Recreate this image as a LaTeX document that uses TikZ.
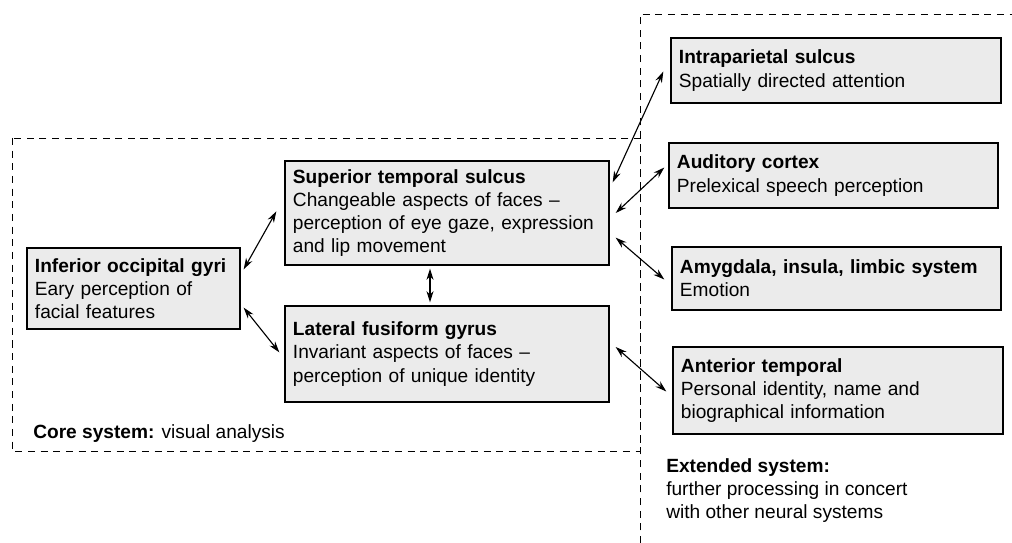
\documentclass[tikz,border=0pt]{standalone}
\usepackage{fontspec}
\setmainfont{Liberation Sans}
\usetikzlibrary{arrows.meta,calc}

\tikzset{
  region/.style={draw, line width=0.9pt, fill=gray!16, align=left,
    inner xsep=0.2cm, inner ysep=0.15cm, font=\fontsize{13.6}{16.5}\selectfont},
  frame/.style={dash pattern=on 5pt off 4pt, line width=0.6pt},
  link/.style={<->, line width=0.8pt, >={Stealth[length=8pt,width=5pt]}},
  caption/.style={inner sep=0pt, align=left, font=\fontsize{13.6}{16.5}\selectfont}
}

\begin{document}
\begin{tikzpicture}[x=0.025cm,y=-0.025cm]
  \useasboundingbox (0,0) rectangle (1012,543);

  % dashed frames
  \draw[frame] (12,138) rectangle (640,451);
  \draw[frame] (640,543) -- (640,14) -- (1012,14);

  \node[region, text width=4.925cm, minimum height=2.025cm] (iog) at (133.5,288.5)
    {\textbf{Inferior occipital gyri}\\Eary perception of\\facial features};

  \node[region, text width=7.7cm, minimum height=2.6cm] (sts) at (447,213)
    {\textbf{Superior temporal sulcus}\\Changeable aspects of faces --\\perception of eye gaze, expression\\and lip movement};
  \node[region, text width=7.7cm, minimum height=2.4cm] (lfg) at (447,354)
    {\textbf{Lateral fusiform gyrus}\\Invariant aspects of faces --\\perception of unique identity};

  \node[region, text width=7.85cm, minimum height=1.625cm] (ips) at (836,70.5)
    {\textbf{Intraparietal sulcus}\\Spatially directed attention};
  \node[region, text width=7.825cm, minimum height=1.625cm] (aud) at (833.5,175.5)
    {\textbf{Auditory cortex}\\Prelexical speech perception};
  \node[region, text width=7.825cm, minimum height=1.575cm] (amy) at (836.5,278.5)
    {\textbf{Amygdala, insula, limbic system}\\Emotion};
  \node[region, text width=7.85cm, minimum height=2.175cm] (ant) at (838,390.5)
    {\textbf{Anterior temporal}\\Personal identity, name and\\biographical information};

  \node[caption, anchor=base west] (core) at (33,438)
    {\textbf{Core system:} visual analysis};
  \node[caption, anchor=north west] (ext) at (666,458)
    {\textbf{Extended system:}\\further processing in concert\\with other neural systems};

  % connections
  \draw[link] ($(iog.north east)+(3,22)$) -- ($(sts.north west)+(-8,51)$);
  \draw[link] ($(iog.south east)+(3,-22)$) -- ($(lfg.north west)+(-5,47)$);
  \draw[link] ($(sts.south)+(-17,3)$) -- ($(lfg.north)+(-17,-3)$);
  \draw[link] ($(sts.north east)+(3,22)$) -- ($(ips.west)+(-7,1)$);
  \draw[link] ($(sts.east)+(6,0)$) -- ($(aud.west)+(-4,-8)$);
  \draw[link] ($(sts.south east)+(6,-28)$) -- ($(amy.west)+(-7,1)$);
  \draw[link] ($(lfg.east)+(6,-7)$) -- ($(ant.west)+(-6,1)$);
\end{tikzpicture}
\end{document}
